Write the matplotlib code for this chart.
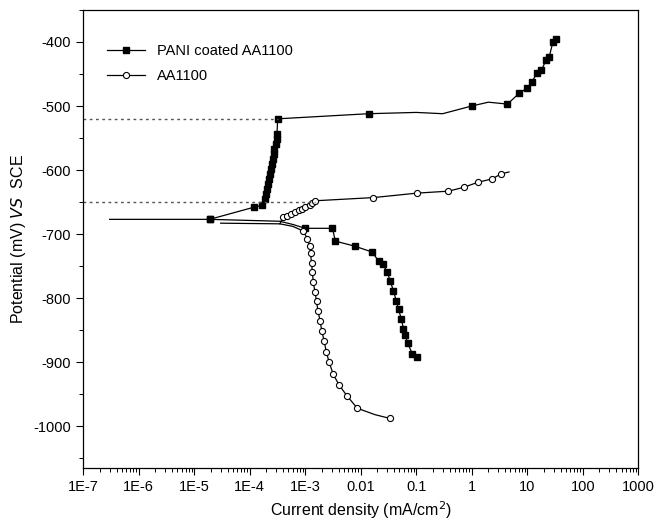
import matplotlib
matplotlib.use("Agg")
import matplotlib.pyplot as plt
import numpy as np
from matplotlib.ticker import LogLocator, FixedLocator, FixedFormatter, MultipleLocator

plt.rcParams['font.family'] = ['Liberation Sans', 'DejaVu Sans']
plt.rcParams['axes.unicode_minus'] = False

# PANI coated AA1100 - cathodic branch (high current -> Ecorr)
pani_cath_i = [0.105, 0.085, 0.07, 0.063, 0.059, 0.054, 0.048, 0.044, 0.039, 0.034,
               0.030, 0.025, 0.021, 0.016, 0.0079, 0.0035, 0.0031, 0.0010, 6e-4, 3.5e-4, 1.9e-5]
pani_cath_e = [-892, -887, -870, -858, -848, -833, -817, -805, -789, -773,
               -759, -747, -742, -728, -719, -711, -691, -691, -685, -680, -677]
pani_cath_mark = [1, 1, 1, 1, 1, 1, 1, 1, 1, 1,
                  1, 1, 1, 1, 1, 1, 1, 1, 0, 0, 1]

# PANI coated AA1100 - anodic branch
pani_anod_i = [3e-7, 1.9e-5, 1.2e-4, 1.7e-4, 1.9e-4, 1.97e-4, 2.05e-4, 2.13e-4, 2.22e-4,
               2.31e-4, 2.4e-4, 2.5e-4, 2.6e-4, 2.7e-4, 2.8e-4, 2.95e-4, 3.05e-4, 3.1e-4,
               3.2e-4, 0.014, 0.1, 0.3, 1.0, 2.0, 4.4, 7.2, 10, 12.3, 15, 18, 22, 25, 29, 33]
pani_anod_e = [-677, -677, -658, -655, -645, -638, -630, -622, -614,
               -606, -598, -591, -583, -575, -567, -559, -552, -544,
               -520, -512, -510, -512, -500, -494, -497, -480, -472, -462, -448, -444,
               -428, -423, -400, -395]
pani_anod_mark = [0, 1, 1, 1, 1, 1, 1, 1, 1,
                  1, 1, 1, 1, 1, 1, 1, 1, 1,
                  1, 1, 0, 0, 1, 0, 1, 1, 1, 1, 1, 1, 1, 1, 1, 1]

# AA1100 - cathodic branch
al_cath_i = [0.034, 0.018, 0.0087, 0.0057, 0.0041, 0.0032, 0.0027, 0.0024, 0.0022, 0.0020,
             0.00186, 0.0017, 0.0016, 0.0015, 0.0014, 0.00135, 0.0013, 0.00125, 0.0012,
             0.0011, 9.1e-4, 6e-4, 3.5e-4, 3e-5]
al_cath_e = [-988, -982, -972, -953, -936, -919, -900, -884, -867, -852,
             -836, -820, -805, -790, -775, -760, -745, -730, -718,
             -707, -695, -688, -684, -683]
al_cath_mark = [1, 0, 1, 1, 1, 1, 1, 1, 1, 1,
                1, 1, 1, 1, 1, 1, 1, 1, 1,
                1, 1, 0, 0, 0]

# AA1100 - anodic branch
al_anod_i = [3.5e-4, 4e-4, 4.7e-4, 5.5e-4, 6.5e-4, 7.6e-4, 8.8e-4, 1.0e-3, 1.2e-3, 1.35e-3,
             1.5e-3, 0.017, 0.105, 0.38, 0.72, 1.3, 2.3, 3.4, 4.7]
al_anod_e = [-684, -673, -672, -669, -666, -663, -661, -658, -655, -652,
             -648, -643, -636, -633, -627, -619, -614, -606, -603]
al_anod_mark = [0, 1, 1, 1, 1, 1, 1, 1, 1, 1,
                1, 1, 1, 1, 1, 1, 1, 1, 0]

# dotted lines to the corrosion potentials
ecorr_i = [3.2e-4, 1.5e-3]
ecorr_e = [-520, -650]

xticks = [1e-7, 1e-6, 1e-5, 1e-4, 1e-3, 1e-2, 1e-1, 1, 10, 100, 1000]
xticklabels = ['1E-7', '1E-6', '1E-5', '1E-4', '1E-3', '0.01', '0.1', '1', '10', '100', '1000']
yticks = [-400, -500, -600, -700, -800, -900, -1000]


def idx(mask):
    return [k for k, m in enumerate(mask) if m]


fig = plt.figure(figsize=(6.6, 5.25), dpi=100)
ax = fig.add_axes([0.126, 0.109, 0.841, 0.872])

sq = dict(color='black', lw=0.9, marker='s', ms=4.8, mfc='black', mec='black')
oc = dict(color='black', lw=0.9, marker='o', ms=4.4, mfc='white', mec='black', mew=0.8)

ax.plot(pani_cath_i, pani_cath_e, markevery=idx(pani_cath_mark), **sq)
ax.plot(pani_anod_i, pani_anod_e, markevery=idx(pani_anod_mark), label='PANI coated AA1100', **sq)
ax.plot(al_cath_i, al_cath_e, markevery=idx(al_cath_mark), **oc)
ax.plot(al_anod_i, al_anod_e, markevery=idx(al_anod_mark), label='AA1100', **oc)

for xi, ei in zip(ecorr_i, ecorr_e):
    ax.plot([1e-7, xi], [ei, ei], ls=(0, (2, 2.5)), color='#555555', lw=1.0)

ax.set_xscale('log')
ax.set_xlim(1e-7, 1000)
ax.set_ylim(-1065, -350)
ax.xaxis.set_major_locator(FixedLocator(xticks))
ax.xaxis.set_major_formatter(FixedFormatter(xticklabels))
ax.xaxis.set_minor_locator(LogLocator(base=10, subs=np.arange(2, 10), numticks=20))
ax.yaxis.set_major_locator(FixedLocator(yticks))
ax.yaxis.set_minor_locator(MultipleLocator(50))

ax.tick_params(which='major', direction='out', length=5, width=0.8, labelsize=10.5)
ax.tick_params(which='minor', direction='out', length=3, width=0.7)
for s in ax.spines.values():
    s.set_linewidth(0.9)

ax.set_xlabel('Current density (mA/cm$^2$)', fontsize=11.5)
ax.set_ylabel('Potential (mV) $\\it{VS}$  SCE', fontsize=11.5)

ax.legend(loc='upper left', bbox_to_anchor=(0.02, 0.955), frameon=False,
          fontsize=10.5, handlelength=2.6, labelspacing=0.75)

fig.savefig('out.png', dpi=100)
